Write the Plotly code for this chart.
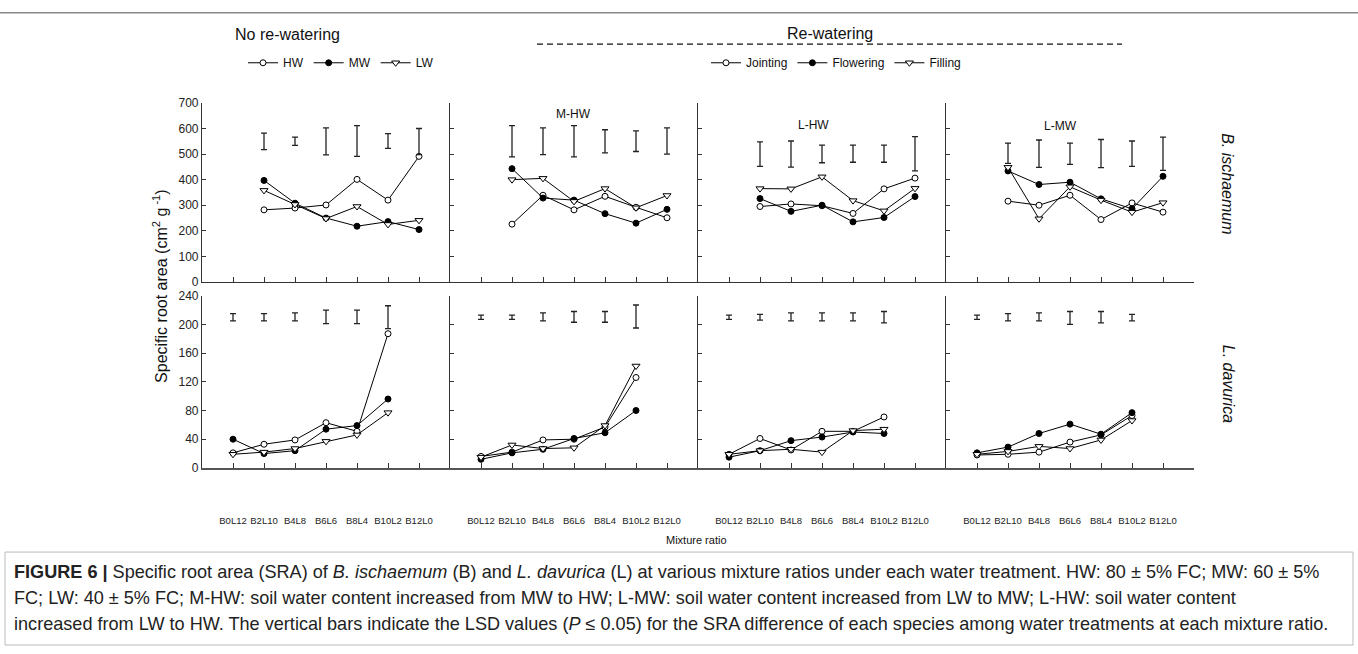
import plotly.graph_objects as go

W, H = 1358, 654

# ---------------- data ----------------
ratios = ["B0L12", "B2L10", "B4L8", "B6L6", "B8L4", "B10L2", "B12L0"]
ratios_bi = ratios[1:]    # B. ischaemum present
ratios_ld = ratios[:-1]   # L. davurica present

series_norw = ["HW", "MW", "LW"]
series_rw = ["Jointing", "Flowering", "Filling"]

# B. ischaemum SRA (cm2 g-1)
bi_norw_hw = [282, 289, 301, 401, 320, 491]
bi_norw_mw = [397, 308, 250, 218, 236, 205]
bi_norw_lw = [358, 303, 248, 295, 225, 241]
bi_mhw_j = [226, 339, 282, 335, 292, 251]
bi_mhw_f = [443, 328, 320, 267, 230, 284]
bi_mhw_fi = [400, 405, 315, 365, 290, 338]
bi_lhw_j = [295, 305, 298, 268, 364, 406]
bi_lhw_f = [326, 276, 300, 235, 252, 334]
bi_lhw_fi = [365, 364, 411, 318, 278, 366]
bi_lmw_j = [316, 300, 339, 244, 309, 273]
bi_lmw_f = [434, 381, 390, 325, 286, 413]
bi_lmw_fi = [448, 247, 372, 320, 273, 310]

# L. davurica SRA (cm2 g-1)
ld_norw_hw = [21, 33, 39, 63, 51, 187]
ld_norw_mw = [40, 20, 24, 54, 59, 96]
ld_norw_lw = [19, 22, 27, 37, 46, 77]
ld_mhw_j = [16, 22, 39, 40, 57, 126]
ld_mhw_f = [12, 21, 26, 41, 49, 80]
ld_mhw_fi = [15, 32, 27, 28, 59, 142]
ld_lhw_j = [19, 41, 25, 51, 51, 71]
ld_lhw_f = [15, 24, 38, 43, 50, 48]
ld_lhw_fi = [19, 24, 26, 22, 52, 54]
ld_lmw_j = [18, 19, 22, 36, 46, 73]
ld_lmw_f = [21, 29, 48, 61, 47, 77]
ld_lmw_fi = [19, 23, 30, 27, 39, 66]

# LSD bars (low, high)
lsd_bi_norw_lo = [517, 534, 497, 491, 522, 498]
lsd_bi_norw_hi = [582, 566, 602, 611, 580, 600]
lsd_bi_mhw_lo = [489, 498, 489, 505, 510, 500]
lsd_bi_mhw_hi = [611, 602, 611, 595, 591, 602]
lsd_bi_lhw_lo = [452, 449, 466, 468, 468, 434]
lsd_bi_lhw_hi = [548, 551, 535, 535, 535, 568]
lsd_bi_lmw_lo = [464, 448, 460, 447, 452, 436]
lsd_bi_lmw_hi = [543, 555, 543, 557, 551, 566]

lsd_ld_norw_lo = [205, 205, 205, 201, 201, 194]
lsd_ld_norw_hi = [215, 215, 216, 220, 220, 226]
lsd_ld_mhw_lo = [207, 207, 205, 203, 203, 195]
lsd_ld_mhw_hi = [213, 213, 216, 218, 218, 227]
lsd_ld_lhw_lo = [207, 206, 205, 205, 205, 202]
lsd_ld_lhw_hi = [213, 214, 216, 216, 216, 218]
lsd_ld_lmw_lo = [207, 205, 205, 200, 202, 205]
lsd_ld_lmw_hi = [213, 215, 216, 218, 218, 214]

top_data = [
    [bi_norw_hw, bi_norw_mw, bi_norw_lw],
    [bi_mhw_j, bi_mhw_f, bi_mhw_fi],
    [bi_lhw_j, bi_lhw_f, bi_lhw_fi],
    [bi_lmw_j, bi_lmw_f, bi_lmw_fi],
]
bot_data = [
    [ld_norw_hw, ld_norw_mw, ld_norw_lw],
    [ld_mhw_j, ld_mhw_f, ld_mhw_fi],
    [ld_lhw_j, ld_lhw_f, ld_lhw_fi],
    [ld_lmw_j, ld_lmw_f, ld_lmw_fi],
]
top_lsd = [(lsd_bi_norw_lo, lsd_bi_norw_hi), (lsd_bi_mhw_lo, lsd_bi_mhw_hi),
           (lsd_bi_lhw_lo, lsd_bi_lhw_hi), (lsd_bi_lmw_lo, lsd_bi_lmw_hi)]
bot_lsd = [(lsd_ld_norw_lo, lsd_ld_norw_hi), (lsd_ld_mhw_lo, lsd_ld_mhw_hi),
           (lsd_ld_lhw_lo, lsd_ld_lhw_hi), (lsd_ld_lmw_lo, lsd_ld_lmw_hi)]

# ---------------- layout geometry (pixels) ----------------
FONT = "Liberation Sans, Arial, sans-serif"
xedges = [202, 450, 698, 946, 1194]
top_px = (98, 281)
bot_px = (295, 471)

def fx(p):
    return p / W

def fy(p):
    return 1 - p / H

marker_styles = [
    dict(symbol="circle", color="white", size=6, line=dict(color="black", width=1)),
    dict(symbol="circle", color="black", size=6, line=dict(color="black", width=1)),
    dict(symbol="triangle-down", color="white", size=7, line=dict(color="black", width=1)),
]

fig = go.Figure()

for row, (data, lsd, xs, yrng, ypx) in enumerate([
        (top_data, top_lsd, ratios_bi, [0, 700], top_px),
        (bot_data, bot_lsd, ratios_ld, [0, 240], bot_px)]):
    for p in range(4):
        k = row * 4 + p + 1
        xa = "x" if k == 1 else f"x{k}"
        ya = "y" if k == 1 else f"y{k}"
        names = series_norw if p == 0 else series_rw
        lg = "legend" if p == 0 else "legend2"
        for s in range(3):
            fig.add_trace(go.Scatter(
                x=xs, y=data[p][s], mode="lines+markers", name=names[s],
                line=dict(color="black", width=1), marker=marker_styles[s],
                xaxis=xa, yaxis=ya, legend=lg,
                showlegend=(row == 0 and p <= 1)))
        lo, hi = lsd[p]
        mid = [(a + b) / 2 for a, b in zip(lo, hi)]
        half = [(b - a) / 2 for a, b in zip(lo, hi)]
        fig.add_trace(go.Scatter(
            x=xs, y=mid, mode="markers",
            marker=dict(size=1, color="rgba(0,0,0,0)"),
            error_y=dict(type="data", array=half, visible=True,
                         color="#222", thickness=1.3, width=3),
            xaxis=xa, yaxis=ya, showlegend=False, hoverinfo="skip"))

        xkey = "xaxis" if k == 1 else f"xaxis{k}"
        ykey = "yaxis" if k == 1 else f"yaxis{k}"
        fig.layout[xkey] = dict(
            domain=[fx(xedges[p]), fx(xedges[p + 1])], anchor=ya,
            type="category", categoryorder="array", categoryarray=ratios,
            range=[-1, 7], showline=True,
            linecolor="#555" if row == 1 else "#333",
            linewidth=2 if row == 1 else 1.3,
            ticks="inside", ticklen=5, tickcolor="#333", tickwidth=1,
            showticklabels=(row == 1), ticklabelstandoff=43,
            tickfont=dict(family=FONT, size=9.5, color="#222"),
            showgrid=False, zeroline=False, fixedrange=True)
        fig.layout[ykey] = dict(
            domain=[fy(ypx[1]), fy(ypx[0])], anchor=xa,
            range=yrng, dtick=100 if row == 0 else 40,
            showline=True, linecolor="#333", linewidth=1.2,
            ticks="inside", ticklen=4, tickcolor="#333",
            showticklabels=(p == 0),
            tickfont=dict(family=FONT, size=12, color="#222"),
            showgrid=False, zeroline=False, fixedrange=True)

annotations = []

def ann(text, x, y, size, **kw):
    d = dict(text=text, x=fx(x), y=fy(y), xref="paper", yref="paper",
             xanchor="center", yanchor="middle",
             showarrow=False, font=dict(family=FONT, size=size, color="#111"))
    d.update(kw)
    annotations.append(d)

ann("No re-watering", 287, 28, 16)
ann("Re-watering", 830, 27, 16)
ann("M-HW", 573, 109, 12)
ann("L-HW", 813, 121, 12)
ann("L-MW", 1060, 122, 12)
ann("Specific root area (cm<sup>2</sup> g<sup> -1</sup>)", 160, 285, 16, textangle=-90)
ann("<i>B. ischaemum</i>", 1228, 180, 16, textangle=90)
ann("<i>L. davurica</i>", 1228, 385, 16, textangle=90)
ann("Mixture ratio", 697, 545, 11)

cap = [
    "<b>FIGURE 6 |</b> Specific root area (SRA) of <i>B. ischaemum</i> (B) and <i>L. davurica</i> (L) at various mixture ratios under each water treatment. HW: 80 ± 5% FC; MW: 60 ± 5%",
    "FC; LW: 40 ± 5% FC; M-HW: soil water content increased from MW to HW; L-MW: soil water content increased from LW to MW; L-HW: soil water content",
    "increased from LW to HW. The vertical bars indicate the LSD values (<i>P</i> ≤ 0.05) for the SRA difference of each species among water treatments at each mixture ratio.",
]
for i, line in enumerate(cap):
    ann(line, 12, 577 + 27 * i, 18, xanchor="left",
        font=dict(family=FONT, size=18.1, color="#222"))

shapes = [
    dict(type="line", xref="paper", yref="paper", x0=0, x1=1, y0=fy(6), y1=fy(6),
         line=dict(color="#888", width=1.5)),
    dict(type="line", xref="paper", yref="paper", x0=fx(537), x1=fx(1122), y0=fy(38), y1=fy(38),
         line=dict(color="#111", width=1.3, dash="6px,4px")),
    dict(type="rect", xref="paper", yref="paper", x0=fx(5), x1=fx(1353), y0=fy(652), y1=fy(557),
         line=dict(color="#bbb", width=1)),
]

fig.update_layout(
    width=W, height=H, margin=dict(l=0, r=0, t=0, b=0),
    paper_bgcolor="white", plot_bgcolor="white",
    annotations=annotations, shapes=shapes,
    legend=dict(orientation="h", x=fx(243), y=fy(57), xanchor="left", yanchor="middle",
                font=dict(family=FONT, size=12, color="#111"), itemwidth=30,
                bgcolor="rgba(0,0,0,0)"),
    legend2=dict(orientation="h", x=fx(706), y=fy(57), xanchor="left", yanchor="middle",
                 font=dict(family=FONT, size=12, color="#111"), itemwidth=30,
                 bgcolor="rgba(0,0,0,0)"),
)

fig.write_html("out.html")
